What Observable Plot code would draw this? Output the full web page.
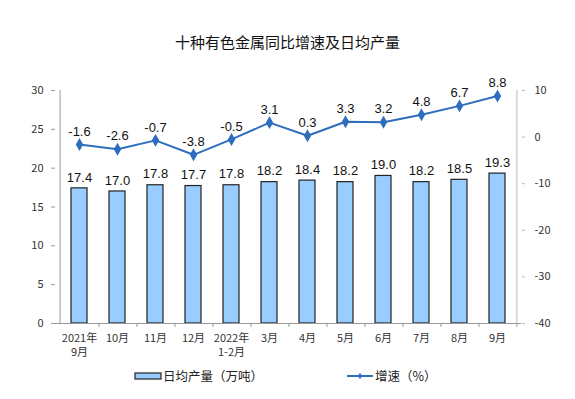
<!DOCTYPE html>
<html><head><meta charset="utf-8">
<script src="https://cdn.jsdelivr.net/npm/d3@7"></script>
<script src="https://cdn.jsdelivr.net/npm/@observablehq/plot@0.6"></script>
<style>
body{margin:0;background:#fff;width:575px;font-family:"Noto Sans CJK SC",sans-serif;}
#title{height:60px;line-height:84px;text-align:center;font-size:15px;color:#111;}
#legend{position:relative;height:39px;font-size:12.5px;color:#222;}
.sw{position:absolute;}
</style></head><body>
<div id="title">十种有色金属同比增速及日均产量</div>
<div id="chart"></div>
<div id="legend"></div>
<script>
const categories = ["2021年\n9月","10月","11月","12月","2022年\n1-2月","3月","4月","5月","6月","7月","8月","9月"];
const output = [17.4,17.0,17.8,17.7,17.8,18.2,18.4,18.2,19.0,18.2,18.5,19.3];
const growth = [-1.6,-2.6,-0.7,-3.8,-0.5,3.1,0.3,3.3,3.2,4.8,6.7,8.8];
const leftTicks = [0,5,10,15,20,25,30];
const rightTicks = [10,0,-10,-20,-30,-40];

const barColor = "#99ccff";
const lineColor = "#2f6dbd";
// map right-axis value (-40..10) onto left scale (0..30)
const toLeft = v => (v + 40) * 0.6;
const fromLeft = v => v / 0.6 - 40;

const data = categories.map((c, i) => ({c, out: output[i], g: growth[i], gl: toLeft(growth[i])}));
const W = 575, ML = 55, MR = 54;
const step = (W - ML - MR) / categories.length;

const chart = Plot.plot({
  width: W, height: 300,
  marginLeft: ML, marginRight: MR, marginTop: 30, marginBottom: 37,
  style: {fontFamily: "'Noto Sans CJK SC', sans-serif", fontSize: "11px", color: "#333", background: "#fff"},
  x: {domain: categories, paddingInner: 0.57, paddingOuter: 0.285, label: null},
  y: {domain: [0, 30], label: null},
  marks: [
    Plot.axisX({tickSize: 0, tickPadding: 8, fontSize: 11, lineHeight: 1.32, fill: "#333"}),
    Plot.axisY({anchor: "left", ticks: leftTicks, tickSize: 4, tickPadding: 8, stroke: "#999", fill: "#333", label: null}),
    Plot.axisY({anchor: "right", ticks: rightTicks.map(toLeft), tickFormat: d => String(Math.round(fromLeft(d))), tickSize: 3, tickPadding: 10, stroke: "#bbb", fill: "#333", label: null}),
    Plot.ruleX(categories, {x: d => d, y1: 0, y2: -0.5, dx: step / 2, stroke: "#999"}),
    Plot.ruleX([categories[0]], {x: d => d, y1: 0, y2: 30, dx: -step / 2, stroke: "#999"}),
    Plot.ruleX([categories[categories.length - 1]], {x: d => d, y1: 0, y2: 30, dx: step / 2, stroke: "#bbb"}),
    Plot.barY(data, {x: "c", y: "out", fill: barColor, stroke: "#222", strokeWidth: 1.2}),
    Plot.ruleY([0], {stroke: "#999"}),
    Plot.text(data, {x: "c", y: "out", text: d => d.out.toFixed(1), dy: -11, fontSize: 13, fill: "#111", fontFamily: "'Liberation Sans', Arial, sans-serif"}),
    Plot.line(data, {x: "c", y: "gl", stroke: lineColor, strokeWidth: 2}),
    Plot.dot(data, {x: "c", y: "gl", symbol: "diamond", r: 3, fill: lineColor, stroke: lineColor}),
    Plot.text(data, {x: "c", y: "gl", text: d => d.g.toFixed(1), dy: -13, fontSize: 13, fill: "#111", fontFamily: "'Liberation Sans', Arial, sans-serif"})
  ]
});
document.getElementById("chart").appendChild(chart);

// legend
const lg = document.getElementById("legend");
lg.innerHTML = `
<svg class="sw" style="left:134px;top:10px" width="30" height="12"><rect x="1" y="3" width="26" height="6" fill="${barColor}" stroke="#222" stroke-width="1.2"/></svg>
<span class="sw" style="left:163px;top:6px">日均产量（万吨）</span>
<svg class="sw" style="left:346px;top:10px" width="30" height="12"><line x1="1" x2="27" y1="6" y2="6" stroke="${lineColor}" stroke-width="2"/><path d="M14,3L16.5,6L14,9L11.5,6Z" fill="${lineColor}"/></svg>
<span class="sw" style="left:375px;top:6px">增速（%）</span>`;
</script>
</body></html>
